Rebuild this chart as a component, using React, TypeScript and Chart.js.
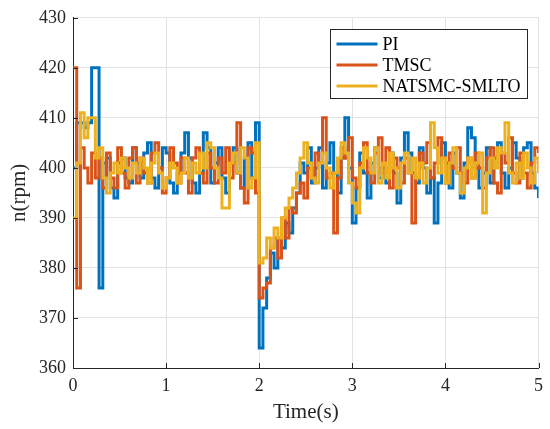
import React, { useEffect, useRef } from "react";
import { Chart, registerables } from "chart.js";

Chart.register(...registerables);

// Sampling period of the recorded speed (s)
const SAMPLE_PERIOD = 0.04;

const seriesLabels = ["PI", "TMSC", "NATSMC-SMLTO"];
const seriesColors = ["#0072BD", "#D95319", "#EDB120"];

const xTicks = [0, 1, 2, 3, 4, 5];
const yTicks = [360, 370, 380, 390, 400, 410, 420, 430];

const piValues = [
  400, 409, 409, 408, 409, 420, 420, 376, 401, 402,
  396, 394, 401, 402, 398, 397, 404, 401, 398, 403,
  405, 398, 396, 400, 404, 403, 397, 395, 399, 403,
  407, 402, 397, 395, 399, 407, 404, 397, 401, 404,
  398, 395, 401, 404, 399, 396, 402, 405, 398, 409,
  364, 372, 378, 383, 380, 386, 384, 389, 387, 392,
  395, 401, 399, 404, 397, 400, 404, 396, 401, 405,
  399, 395, 402, 410, 400, 389, 396, 403, 399, 394,
  401, 404, 398, 400, 397, 403, 399, 393, 402, 407,
  403, 399, 397, 404, 400, 395, 398, 389, 397, 405,
  401, 396, 403, 399, 394, 401, 408, 406, 400, 396,
  399, 404, 397, 402, 405, 399, 396, 400, 405, 402,
  398, 404, 405, 399, 396, 394,
];

const tmscValues = [
  420, 376, 404, 400, 397, 403, 398, 402, 396, 403,
  398, 396, 404, 399, 396, 402, 404, 397, 402, 399,
  397, 403, 405, 400, 395, 398, 404, 401, 397, 402,
  399, 395, 402, 404, 399, 397, 403, 400, 397, 402,
  399, 404, 398, 401, 409, 396, 393, 404, 403, 395,
  374, 376, 377, 384, 386, 382, 390, 386, 392, 391,
  395, 397, 394, 400, 398, 403, 401, 410, 398, 399,
  387, 398, 404, 402, 406, 398, 396, 401, 405, 399,
  397, 403, 406, 399, 404, 396, 402, 400, 397, 402,
  399, 389, 398, 403, 401, 405, 398, 401, 406, 402,
  397, 403, 400, 404, 399, 397, 402, 398, 403, 400,
  396, 402, 404, 397, 395, 403, 401, 406, 399, 397,
  403, 399, 396, 401, 404, 403,
];

const natsmcValues = [
  390, 401, 411, 406, 410, 410, 402, 404, 398, 395,
  399, 401, 399, 402, 400, 398, 401, 399, 402, 400,
  397, 401, 403, 399, 396, 398, 401, 400, 397, 399,
  402, 398, 401, 399, 403, 400, 405, 404, 400, 398,
  392, 392, 401, 403, 399, 404, 402, 396, 398, 405,
  381, 382, 386, 384, 388, 386, 390, 392, 394, 396,
  399, 402, 405, 401, 398, 397, 401, 403, 400, 396,
  399, 402, 405, 403, 397, 393, 391, 400, 404, 402,
  399, 404, 397, 401, 398, 403, 400, 396, 401, 403,
  399, 402, 398, 401, 397, 400, 409, 404, 399, 402,
  397, 401, 404, 399, 395, 400, 402, 398, 401, 403,
  391, 399, 402, 400, 404, 403, 409, 399, 397, 401,
  398, 403, 400, 397, 402, 399,
];

const times = piValues.map((_, i) => Math.round(i * SAMPLE_PERIOD * 100) / 100);

const FONT = "'Liberation Serif', 'Times New Roman', serif";
const AXIS_COLOR = "#262626";
const GRID_COLOR = "#e2e2e2";

const innerTicksAndLegend = {
  id: "innerTicksAndLegend",
  afterDatasetsDraw(chart: any) {
    const { ctx, chartArea, scales } = chart;
    const xs = scales.x;
    const ys = scales.y;
    ctx.save();
    // inner tick marks
    ctx.strokeStyle = AXIS_COLOR;
    ctx.lineWidth = 1;
    ctx.beginPath();
    xTicks.forEach((v) => {
      const px = Math.round(xs.getPixelForValue(v)) + 0.5;
      ctx.moveTo(px, chartArea.bottom);
      ctx.lineTo(px, chartArea.bottom - 5);
    });
    yTicks.forEach((v) => {
      const py = Math.round(ys.getPixelForValue(v)) + 0.5;
      ctx.moveTo(chartArea.left, py);
      ctx.lineTo(chartArea.left + 5, py);
    });
    ctx.stroke();

    // legend box
    const boxW = 197;
    const boxH = 69;
    const bx = Math.round(chartArea.right - 12 - boxW) + 0.5;
    const by = Math.round(chartArea.top + 11) + 0.5;
    ctx.fillStyle = "#ffffff";
    ctx.fillRect(bx, by, boxW, boxH);
    ctx.strokeStyle = AXIS_COLOR;
    ctx.lineWidth = 1;
    ctx.strokeRect(bx, by, boxW, boxH);
    ctx.font = `18px ${FONT}`;
    ctx.textBaseline = "middle";
    ctx.textAlign = "left";
    chart.data.datasets.forEach((ds: any, i: number) => {
      const cy = by + 14.5 + i * 21;
      ctx.strokeStyle = ds.borderColor;
      ctx.lineWidth = 3;
      ctx.beginPath();
      ctx.moveTo(bx + 6, cy);
      ctx.lineTo(bx + 47, cy);
      ctx.stroke();
      ctx.fillStyle = "#000000";
      ctx.fillText(ds.label, bx + 52, cy + 1);
    });
    ctx.restore();
  },
};

export default function App() {
  const canvasRef = useRef<HTMLCanvasElement | null>(null);

  useEffect(() => {
    document.body.style.margin = "0";
    const canvas = canvasRef.current;
    if (!canvas) return;
    const allValues = [piValues, tmscValues, natsmcValues];
    const chart = new Chart(canvas, {
      type: "line",
      data: {
        datasets: allValues.map((vals, i) => ({
          label: seriesLabels[i],
          data: vals.map((v, k) => ({ x: times[k], y: v })),
          borderColor: seriesColors[i],
          backgroundColor: seriesColors[i],
          borderWidth: 3,
          pointRadius: 0,
          stepped: true,
          fill: false,
          order: 3 - i,
        })),
      },
      options: {
        animation: false,
        responsive: false,
        maintainAspectRatio: false,
        layout: { padding: { top: 13, right: 10, left: 0, bottom: 0 } },
        plugins: {
          legend: { display: false },
          tooltip: { enabled: false },
        },
        scales: {
          x: {
            type: "linear",
            min: 0,
            max: 5,
            afterFit: (s: any) => {
              s.height = 61;
            },
            afterBuildTicks: (s: any) => {
              s.ticks = xTicks.map((v) => ({ value: v }));
            },
            ticks: {
              color: "#262626",
              font: { family: FONT, size: 18 },
              padding: 7,
              maxRotation: 0,
            },
            grid: { color: GRID_COLOR, drawTicks: false, lineWidth: 1 },
            border: { color: AXIS_COLOR, width: 1 },
            title: {
              display: true,
              text: "Time(s)",
              color: "#262626",
              font: { family: FONT, size: 21 },
              padding: { top: 0, bottom: 4 },
            },
          },
          y: {
            type: "linear",
            min: 360,
            max: 430,
            afterFit: (s: any) => {
              s.width = 73;
            },
            afterBuildTicks: (s: any) => {
              s.ticks = yTicks.map((v) => ({ value: v }));
            },
            ticks: {
              color: "#262626",
              font: { family: FONT, size: 18 },
              padding: 7,
            },
            grid: { color: GRID_COLOR, drawTicks: false, lineWidth: 1 },
            border: { color: AXIS_COLOR, width: 1 },
            title: {
              display: true,
              text: "n(rpm)",
              color: "#262626",
              font: { family: FONT, size: 21 },
              padding: { top: 7, bottom: 0 },
            },
          },
        },
      },
      plugins: [innerTicksAndLegend],
    });
    return () => chart.destroy();
  }, []);

  return (
    <div style={{ position: "absolute", left: 0, top: 0, width: 550, height: 429 }}>
      <canvas ref={canvasRef} width={550} height={429} style={{ width: 550, height: 429 }} />
    </div>
  );
}
